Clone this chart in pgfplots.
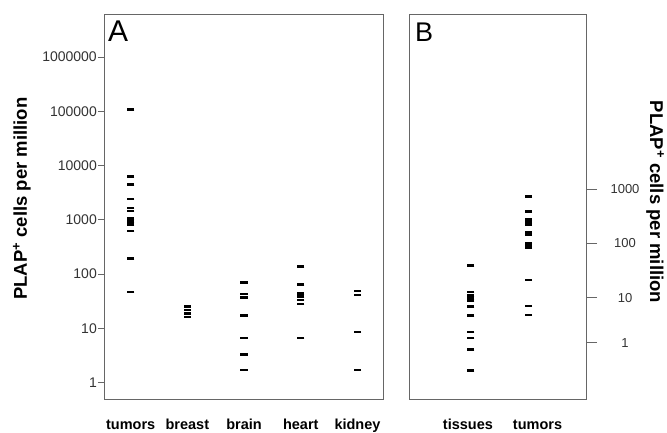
\documentclass[border=0pt]{standalone}
\usepackage{fontspec}
\setmainfont{Liberation Sans}
\usepackage{pgfplots}
\pgfplotsset{compat=1.18}
\pgfplotsset{
  myPanel/.style={
    scale only axis, clip=false,
    axis line style={black!60, line width=0.9pt},
    tick style={black!60, line width=0.9pt},
    yminorticks=false, xtick style={draw=none},
    tick align=outside,
    xticklabel style={font=\fontsize{14.5}{16}\selectfont\bfseries, text height=11pt, text depth=0pt, yshift=-10pt},
    yticklabel style={font=\fontsize{14}{16}\selectfont, text=black!80},
    ylabel style={font=\fontsize{18.5}{20}\selectfont\bfseries},
  },
  myDash/.style={only marks, mark=-, mark size=3.7pt, mark options={line width=2.7pt, black}},
}
\begin{document}
\begin{tikzpicture}
\path[use as bounding box] (0pt,0pt) rectangle (667pt,433pt);
% Panel A
\begin{axis}[ymode=log, myPanel, at={(104pt,34pt)}, anchor=south west, width=279pt, height=385pt,
  ymin=0.5, ymax=6.2e6, xmin=0.53, xmax=5.45,
  xtick={1,2,3,4,5}, xticklabels={tumors,breast,brain,heart,kidney},
  ytick={1,10,100,1000,10000,100000,1000000},
  yticklabels={1,10,100,1000,10000,100000,1000000},
  ytick pos=left, major tick length=6pt,
  yticklabel style={inner sep=1pt},
  ylabel={PLAP\textsuperscript{+} cells per million},
  ylabel style={at={(rel axis cs:-0.294,0.52)}, anchor=center},
]
\addplot[myDash] coordinates {(1,108000) (1,6220) (1,4510) (1,2415) (1,1650) (1,1450) (1,1057) (1,930) (1,819) (1,622) (1,192) (1,47)};
\addplot[myDash] coordinates {(2,25) (2,21.8) (2,18.7) (2,16.2)};
\addplot[myDash] coordinates {(3,69.5) (3,43) (3,37) (3,17.4) (3,6.65) (3,3.28) (3,1.71)};
\addplot[myDash] coordinates {(4,137) (4,63.8) (4,44.3) (4,38.4) (4,33.3) (4,28.1) (4,6.65)};
\addplot[myDash] coordinates {(5,48.8) (5,41.2) (5,8.6) (5,1.71)};
\node[anchor=north west, inner sep=0pt, font=\fontsize{30}{30}\selectfont, xshift=4pt, yshift=-7pt] at (rel axis cs:0,1) {A};
\end{axis}
% Panel B
\begin{axis}[ymode=log, myPanel, at={(409pt,34pt)}, anchor=south west, width=177pt, height=385pt,
  ymin=0.136, ymax=1.68e6, xmin=-0.067, xmax=2.995,
  xtick={0.953,2.156}, xticklabels={tissues,tumors},
  xticklabel style={yshift=5pt},
  ytick={1.49,10,100,1000}, yticklabels={1,10,100,1000},
  ytick pos=right, yticklabel pos=right, major tick length=11pt,
  yticklabel style={anchor=center, xshift=28pt, font=\fontsize{13}{15}\selectfont},
  ylabel={PLAP\textsuperscript{+} cells per million},
  ylabel style={at={(rel axis cs:1.39,0.512)}, anchor=center, rotate=180},
]
\addplot[myDash] coordinates {(1,38.8) (1,12.7) (1,11.0) (1,9.7) (1,8.88) (1,6.8) (1,4.7) (1,2.33) (1,1.81) (1,1.12) (1,0.456)};
\addplot[myDash] coordinates {(2,724) (2,384) (2,276) (2,243) (2,218) (2,159) (2,143) (2,102) (2,91.5) (2,82.3) (2,21.2) (2,7.0) (2,4.8)};
\node[anchor=north west, inner sep=0pt, font=\fontsize{27}{27}\selectfont, xshift=6pt, yshift=-9pt] at (rel axis cs:0,1) {B};
\end{axis}
\end{tikzpicture}
\end{document}
